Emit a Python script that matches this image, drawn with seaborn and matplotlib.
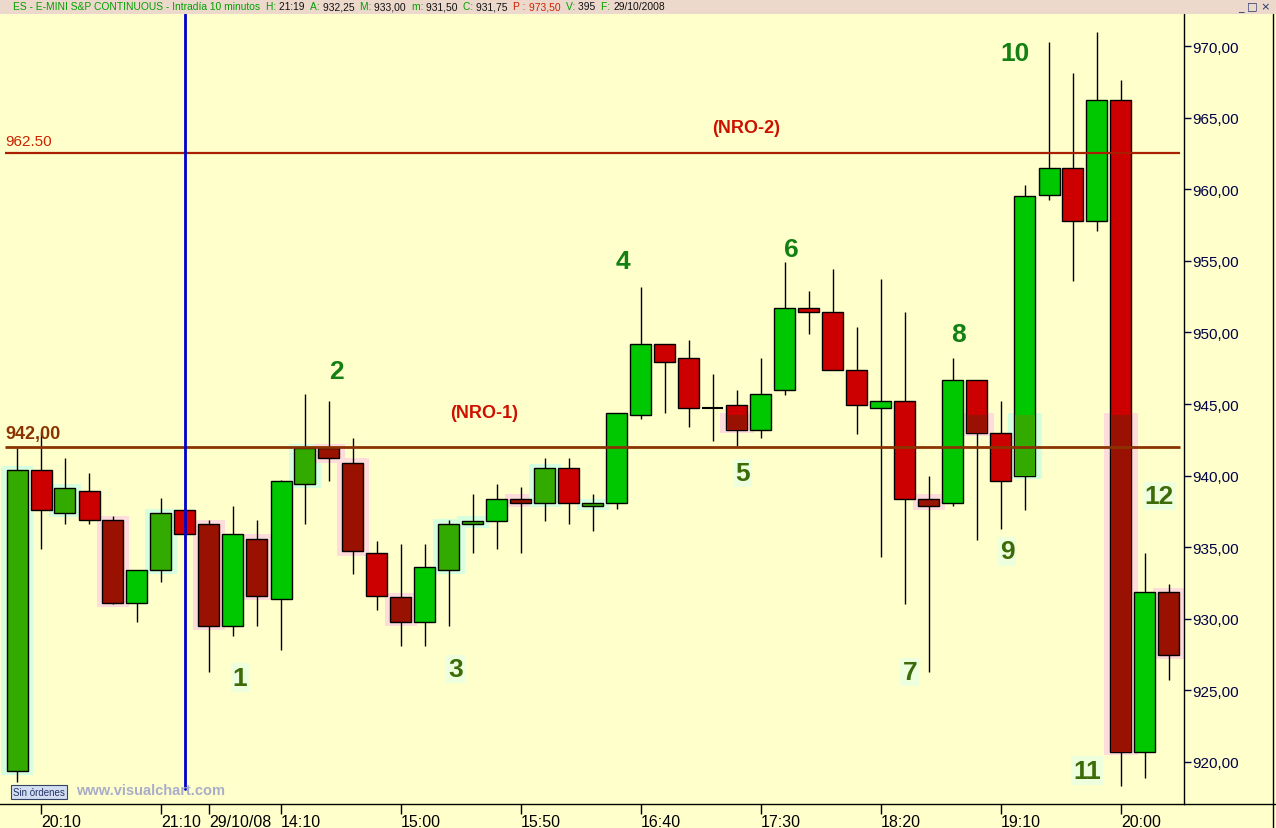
import seaborn as sns
import matplotlib.pyplot as plt
from matplotlib.patches import Rectangle
from matplotlib.lines import Line2D

# OHLC of the 10 minute bars
opens = [919.4, 940.4, 937.4, 938.9, 936.9, 931.1, 933.4, 937.6, 936.6, 929.5,
         935.6, 931.4, 939.4, 941.9, 940.9, 934.6, 931.5, 929.8, 933.4, 936.65,
         936.85, 938.4, 938.1, 940.5, 937.9, 938.1, 944.2, 949.2, 948.2, 944.7,
         944.9, 943.2, 945.95, 951.7, 951.4, 947.4, 944.7, 945.2, 938.4, 938.1,
         946.7, 943.0, 939.95, 959.6, 961.5, 957.8, 966.2, 920.7, 931.85]
highs = [941.9, 943.0, 941.2, 940.2, 937.2, 933.4, 938.45, 937.7, 936.9, 937.9,
         936.9, 939.7, 945.7, 945.2, 942.65, 935.4, 935.2, 935.2, 936.9, 938.7,
         939.4, 939.2, 941.2, 941.2, 938.7, 944.4, 953.15, 949.2, 949.5, 947.1,
         946.0, 948.2, 954.9, 952.9, 954.4, 950.4, 953.7, 951.4, 940.0, 948.2,
         946.7, 945.2, 960.3, 970.3, 968.1, 971.0, 967.6, 934.6, 932.4]
lows = [918.6, 934.9, 936.6, 936.6, 931.0, 929.8, 932.6, 935.5, 926.3, 928.8,
        929.5, 927.8, 936.65, 939.6, 933.1, 930.6, 928.1, 928.1, 929.5, 934.6,
        934.9, 934.6, 936.85, 936.6, 936.1, 937.7, 943.95, 944.4, 943.4, 942.4,
        942.1, 942.65, 945.65, 949.9, 947.4, 942.9, 934.3, 931.0, 926.3, 937.9,
        935.5, 936.3, 937.6, 959.25, 953.6, 957.1, 918.35, 918.9, 925.75]
closes = [940.4, 937.6, 939.1, 936.9, 931.1, 933.4, 937.4, 935.9, 929.5, 935.9,
          931.6, 939.6, 941.9, 941.2, 934.7, 931.6, 929.8, 933.6, 936.65, 936.85,
          938.4, 938.1, 940.5, 938.1, 938.1, 944.4, 949.2, 947.9, 944.7, 944.7,
          943.2, 945.7, 951.7, 951.4, 947.4, 944.9, 945.2, 938.4, 937.9, 946.7,
          943.0, 939.6, 959.55, 961.5, 957.8, 966.2, 920.7, 931.85, 927.5]

tick_bars = [1, 6, 8, 11, 16, 21, 26, 31, 36, 41, 46]
tick_labels = ['20:10', '21:10', '29/10/08', '14:10', '15:00', '15:50',
               '16:40', '17:30', '18:20', '19:10', '20:00']
price_ticks = [920, 925, 930, 935, 940, 945, 950, 955, 960, 965, 970]

nro_levels = [942.0, 962.5]
nro_labels = ['942,00', '962.50']
marker_bar = 7

wave_labels = ['1', '2', '3', '4', '5', '6', '7', '8', '9', '10', '11', '12']
wave_x = [9.29, 13.29, 18.29, 25.25, 30.25, 32.25, 37.2, 39.25, 41.25, 41.6, 44.6, 47.6]
wave_y = [925.9, 947.3, 926.5, 955.0, 940.2, 955.8, 926.3, 949.9, 934.7, 969.5, 919.4, 938.6]

W, H = 1276, 829
BG = '#FFFFCC'

sns.set_theme(style='white')
plt.rcParams['font.family'] = ['Liberation Sans', 'DejaVu Sans']

fig = plt.figure(figsize=(W / 100, H / 100), dpi=100, facecolor=BG)
ax = fig.add_axes([0, 24 / H, 1184 / W, (805 - 15) / H])
ax.set_facecolor(BG)

dark = {0, 2, 4, 6, 8, 10, 12, 13, 14, 16, 18, 19, 21, 22, 24, 38, 48}
partial = {30, 40, 42, 46}
cut = 944.2
bw = 0.875

for i, (o, h, l, c) in enumerate(zip(opens, highs, lows, closes)):
    up = c > o
    bot, top = min(o, c), max(o, c)
    ax.vlines(i, l, h, color='black', lw=1, zorder=2)
    if c == o:
        ax.hlines(o, i - bw / 2, i + bw / 2, color='black', lw=1.5, zorder=3)
        continue
    if up:
        bright, deep, glow = '#00C800', '#33AA00', '#D6FFE0'
    else:
        bright, deep, glow = '#CC0000', '#991100', '#FFDCDC'
    face = deep if i in dark else bright
    if i in dark:
        ax.bar(i, top - bot + 0.6, bottom=bot - 0.3, width=1.3, color=glow,
               lw=0, zorder=1)
    if i in partial:
        ax.bar(i, min(top, cut) - bot + 0.4, bottom=bot - 0.2, width=1.4,
               color=glow, lw=0, zorder=1)
    ax.bar(i, top - bot, bottom=bot, width=bw, color=face,
           edgecolor='black', lw=1, zorder=3)
    if i in partial:
        ax.bar(i, min(top, cut) - bot, bottom=bot, width=bw - 0.08,
               color=deep, lw=0, zorder=3.5)

# NRO levels
ax.hlines(nro_levels[0], -0.5, 48.45, color='#8B3300', lw=2, zorder=4)
ax.hlines(nro_levels[1], -0.5, 48.45, color='#AA1F00', lw=1.6, zorder=4)
ax.text(-0.5, nro_levels[0] + 0.35, nro_labels[0], color='#8B3300',
        fontsize=13, fontweight='bold', va='bottom', ha='left', zorder=5)
ax.text(-0.5, nro_levels[1] + 0.35, nro_labels[1], color='#CC2200',
        fontsize=11, va='bottom', ha='left', zorder=5)
ax.text(19.46, 944.4, '(NRO-1)', color='#CC1100', fontsize=13,
        fontweight='bold', ha='center', va='center', zorder=5)
ax.text(30.4, 964.3, '(NRO-2)', color='#CC1100', fontsize=13,
        fontweight='bold', ha='center', va='center', zorder=5)

# session marker
ax.axvline(marker_bar, ymin=0.019, ymax=1, color='#0000CC', lw=2, zorder=4)

# wave count
for k, (lab, x, y) in enumerate(zip(wave_labels, wave_x, wave_y)):
    if k in (1, 3, 5, 7, 9):
        ax.text(x, y, lab, color='#128012', fontsize=19, fontweight='bold',
                ha='center', va='center', zorder=6)
    else:
        ax.text(x, y, lab, color='#3D6B0A', fontsize=19, fontweight='bold',
                ha='center', va='center', zorder=6,
                bbox=dict(facecolor='#EEFFDD', edgecolor='none', pad=1.5))

ax.set_xlim(-17 / 24, (1184 - 17) / 24)
ax.set_ylim(920 - 42 / 14.32, 920 + 748 / 14.32)

ax.set_xticks(tick_bars)
ax.set_xticklabels(tick_labels, fontsize=11.5, color='black')
for t in ax.get_xticklabels():
    t.set_ha('left')
ax.tick_params(axis='x', direction='out', length=7, width=1, color='black',
               pad=0, bottom=True)

ax.yaxis.tick_right()
ax.set_yticks(price_ticks)
ax.set_yticklabels([f'{p:.2f}'.replace('.', ',') for p in price_ticks],
                   fontsize=11, color='#000044')
ax.tick_params(axis='y', direction='out', length=5, width=1, color='#000044',
               pad=1, right=True)

for side in ['top', 'left']:
    ax.spines[side].set_visible(False)
for side in ['right', 'bottom']:
    ax.spines[side].set_color('black')
    ax.spines[side].set_linewidth(1)
ax.grid(False)

# frame bits outside the axes
fig.add_artist(Line2D([1184 / W, 1], [1 - 805 / H] * 2, color='black', lw=1))
fig.add_artist(Line2D([1273 / W] * 2, [0, 1 - 15 / H], color='black', lw=1))

# title bar
fig.add_artist(Rectangle((0, 1 - 15 / H), 1, 15 / H, transform=fig.transFigure,
                         facecolor='#ECD9CC', edgecolor='none'))
green, black, red = '#00A000', '#111111', '#CC2200'
pieces = [('ES - E-MINI S&P CONTINUOUS - Intradía 10 minutos  ', green),
          ('H: ', green), ('21:19  ', black), ('A: ', green), ('932,25  ', black),
          ('M: ', green), ('933,00  ', black), ('m: ', green), ('931,50  ', black),
          ('C: ', green), ('931,75  ', black), ('P : ', red), ('973,50  ', red),
          ('V: ', green), ('395  ', black), ('F: ', green), ('29/10/2008', black)]
renderer = fig.canvas.get_renderer()
xpx = 13
for s, col in pieces:
    t = fig.text(xpx / W, 1 - 7.5 / H, s, color=col, fontsize=7.4,
                 va='center', ha='left')
    xpx += t.get_window_extent(renderer).width
fig.text(1238 / W, 1 - 7.5 / H, '_ □ ×', color='#223366', fontsize=8,
         va='center', ha='left', family=['DejaVu Sans'])

# footer badges
fig.text(13 / W, 1 - 793 / H, 'Sin órdenes', fontsize=7, color='#223366',
         va='center', ha='left',
         bbox=dict(facecolor='#D4DEF2', edgecolor='#334466', pad=1.5, lw=0.8))
fig.text(76 / W, 1 - 791 / H, 'www.visualchart.com', fontsize=10.5,
         fontweight='bold', color='#A9ADC9', va='center', ha='left')

fig.savefig('out.png', dpi=100, facecolor=BG)
